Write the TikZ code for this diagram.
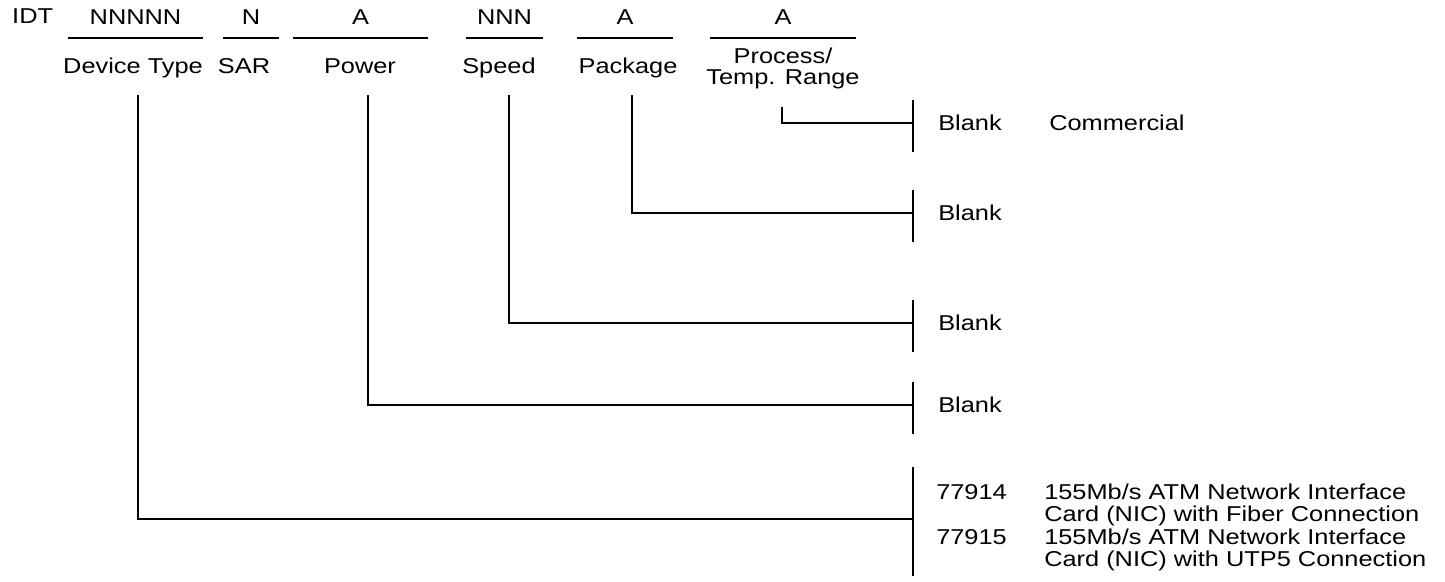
\documentclass[tikz,border=0pt]{standalone}
\usepackage{fontspec}
\setmainfont{Liberation Sans}[FakeStretch=1.18]
\begin{document}
\begin{tikzpicture}[x=1pt,y=-1pt,line width=2.5pt,
  lbl/.style={inner sep=0pt,font=\fontsize{21.5}{22.3}\selectfont},
  fld/.style={lbl,anchor=base},
  opt/.style={lbl,anchor=base west}]
\useasboundingbox (0,0) rectangle (1445,581);
\node[opt] (idt) at (11,23) {IDT};
% fields of the part number
\foreach \n/\a/\b/\c/\t/\s in {dev/68/203/133/NNNNN/Device Type,sar/223/279/244/N/SAR,pwr/293/428/360/A/Power,spd/466/543/499/NNN/Speed,pkg/577/673/628/A/Package}{
  \draw[line cap=butt] (\a,38) -- (\b,38);
  \node[fld] (\n-f) at ({(\a+\b)/2},24) {\t};
  \node[fld] (\n) at (\c,73) {\s};
}
\draw (710,38) -- (856,38);
\node[fld] (tmp-f) at (783,24) {A};
\node[fld] (tmp) at (783,63) {Process/};
\node[fld] (tmp2) at (783,84) {Temp. Range};
% ticks on the right
\foreach \i/\y/\h in {1/123/23.5,2/213/23.5,3/323/23.5,4/405/23.5,5/519/52}{
  \coordinate (t\i) at (913,\y);
  \draw (913,\y-\h) -- (913,\y+\h+5);
}
\coordinate (tmp-s) at (782,107);
\coordinate (pkg-s) at (632,95);
\coordinate (spd-s) at (509,95);
\coordinate (pwr-s) at (368,95);
\coordinate (dev-s) at (138,95);
\draw (tmp-s) |- (t1);
\draw (pkg-s) |- (t2);
\draw (spd-s) |- (t3);
\draw (pwr-s) |- (t4);
\draw (dev-s) |- (t5);
% options
\node[opt] (b1) at (937,130.5) {Blank};
\node[opt] (com) at (1048,130.5) {Commercial};
\node[opt] (b2) at (937,220.5) {Blank};
\node[opt] (b3) at (937,330.5) {Blank};
\node[opt] (b4) at (937,412.5) {Blank};
\node[opt] (n14) at (935,499) {77914};
\node[opt] (d14a) at (1043,499) {155Mb/s ATM Network Interface};
\node[opt] (d14b) at (1043,521.3) {Card (NIC) with Fiber Connection};
\node[opt] (n15) at (935,544) {77915};
\node[opt] (d15a) at (1043,544) {155Mb/s ATM Network Interface};
\node[opt] (d15b) at (1043,566.3) {Card (NIC) with UTP5 Connection};
\end{tikzpicture}
\end{document}
